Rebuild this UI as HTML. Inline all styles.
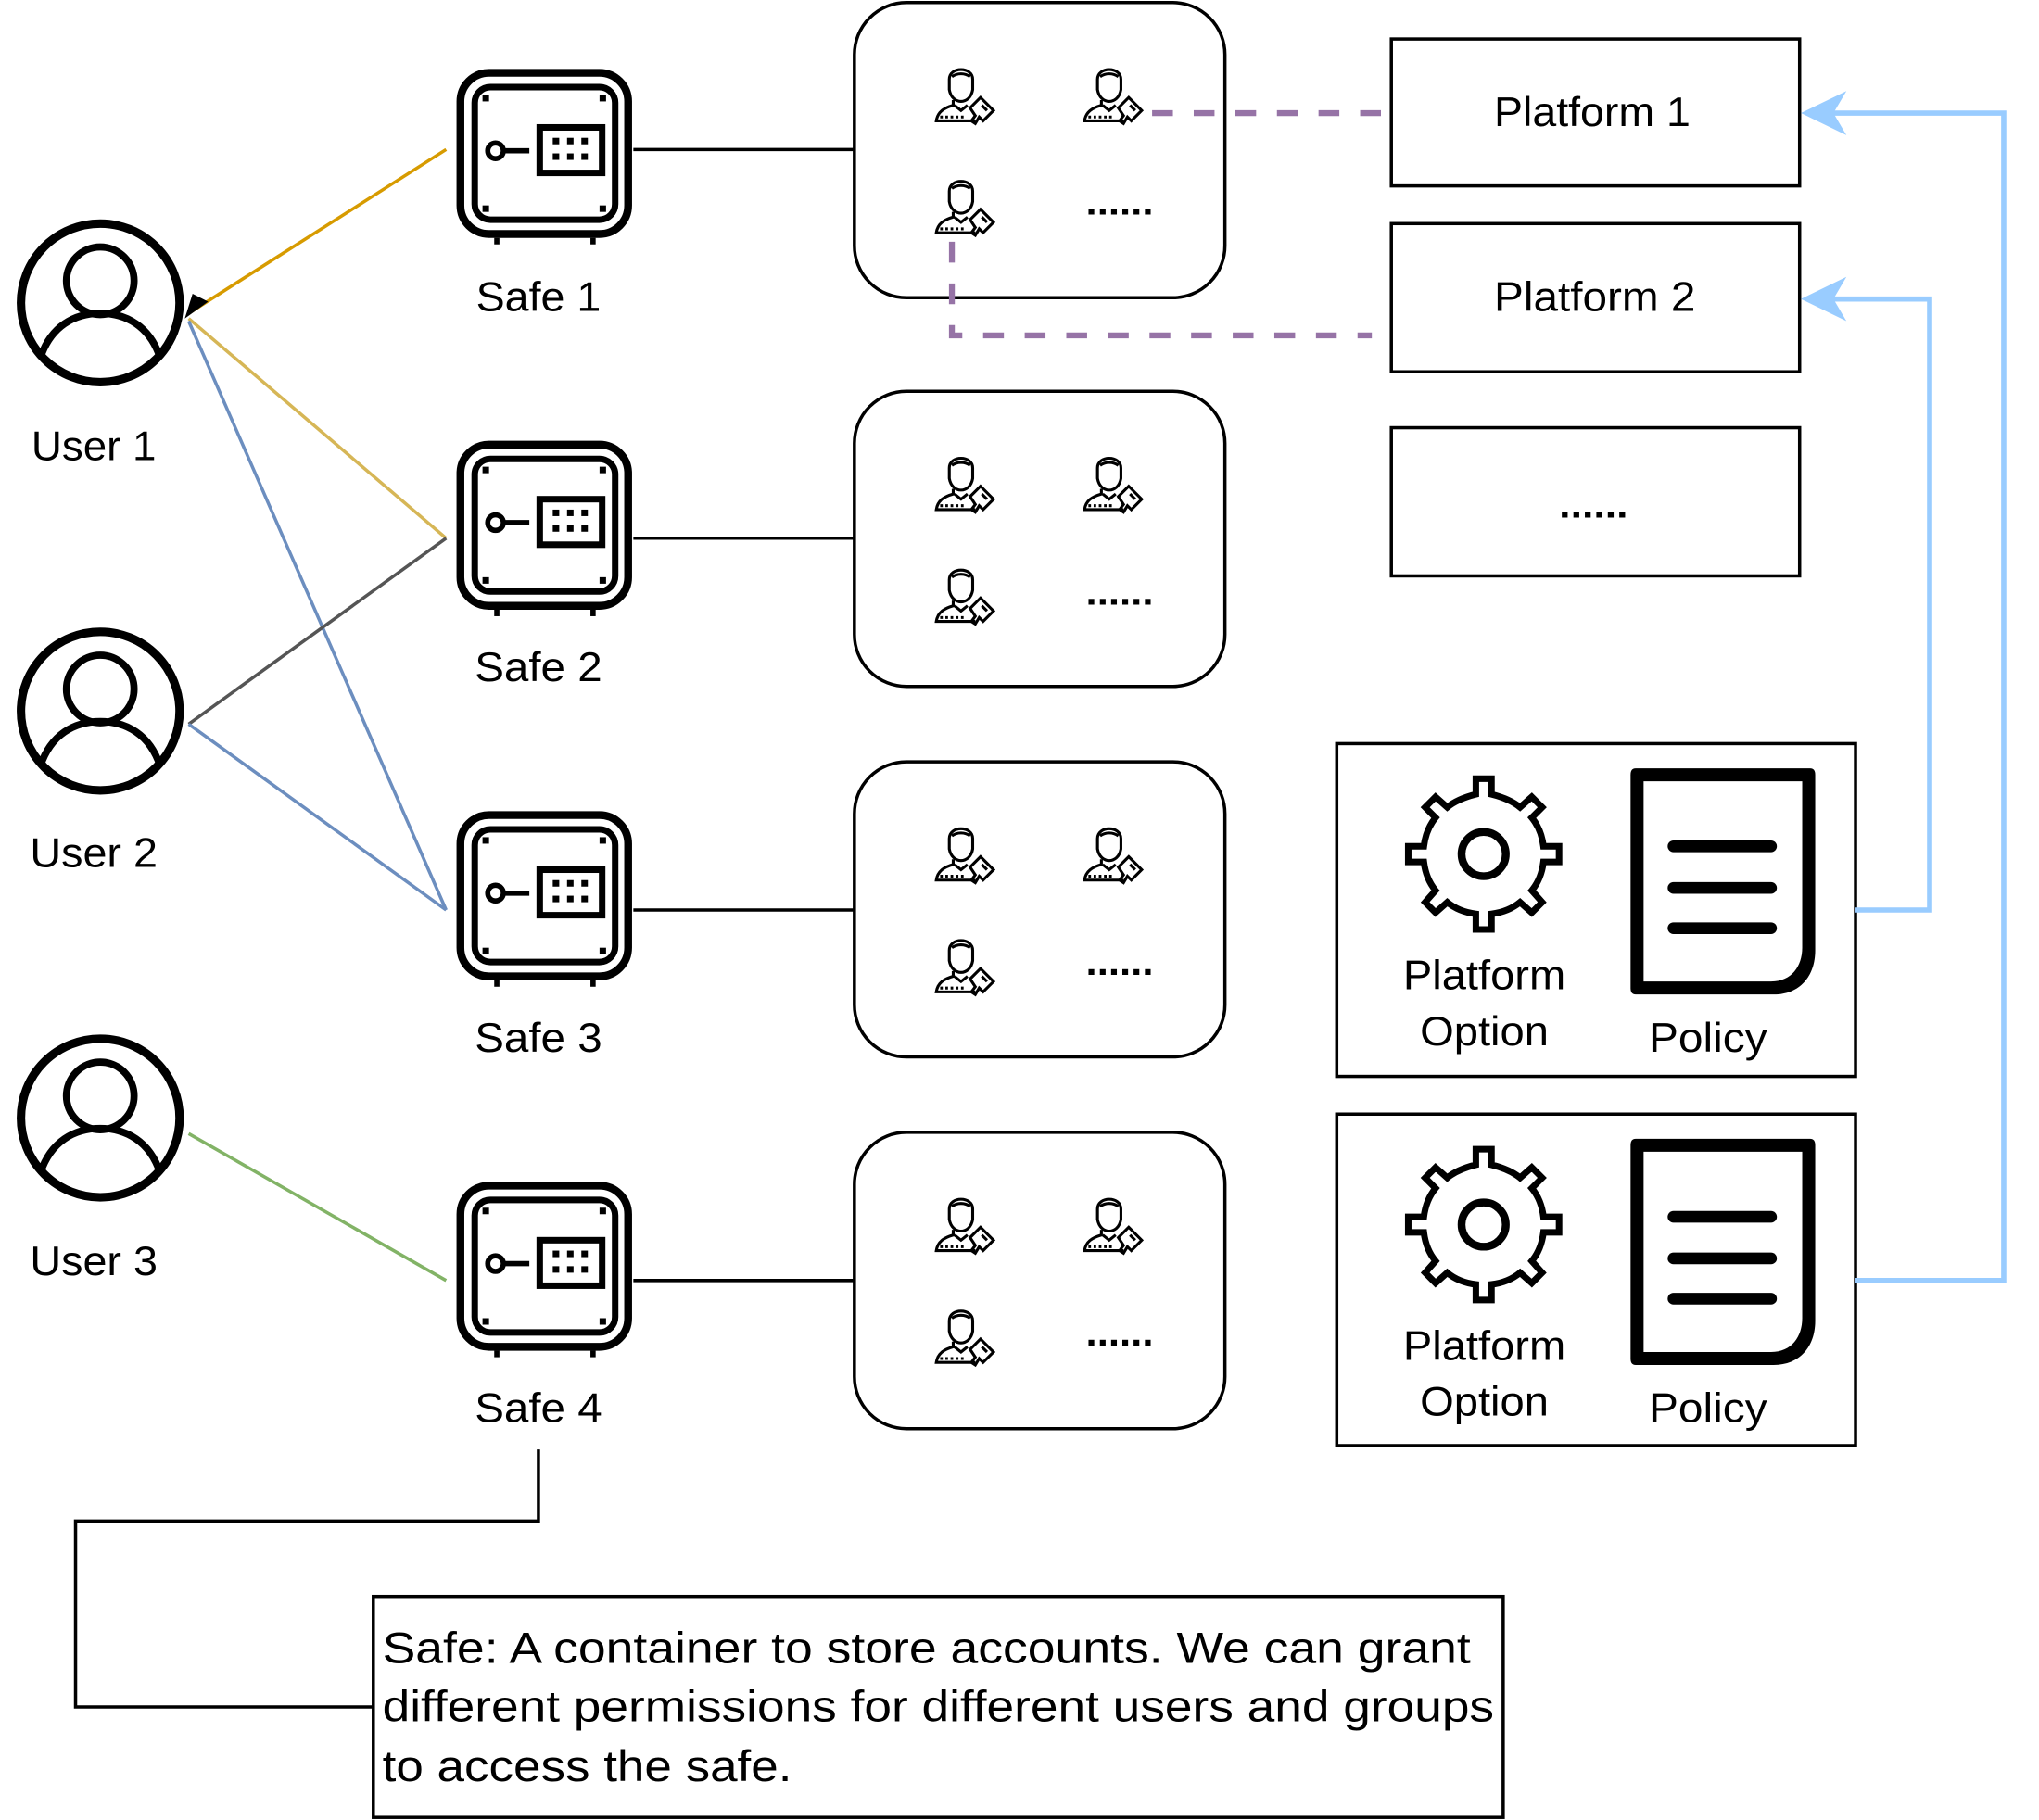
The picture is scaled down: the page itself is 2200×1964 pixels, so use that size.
<!DOCTYPE html>
<html><head><meta charset="utf-8"><style>
html,body{margin:0;padding:0;background:#fff;}
svg{display:block;}
text{font-family:"Liberation Sans",Arial,Helvetica,sans-serif;fill:#000;}
</style></head><body>
<svg width="2200" height="1964" viewBox="0 0 1568 1400" xmlns="http://www.w3.org/2000/svg">
<defs>
<g id="user" fill="none" stroke="#000">
  <circle cx="0" cy="0" r="61" stroke-width="6.5"/>
  <circle cx="0" cy="-17" r="26" stroke-width="5.5"/>
  <path d="M-46,42 C-38,18 -20,8 0,8 C20,8 38,18 46,42" stroke-width="5.5"/>
</g>
<g id="safe">
  <rect x="3" y="3" width="129" height="124" rx="22" fill="none" stroke="#000" stroke-width="6"/>
  <rect x="14" y="14" width="108" height="102" rx="12" fill="none" stroke="#000" stroke-width="5"/>
  <rect x="64" y="45" width="48" height="35" fill="none" stroke="#000" stroke-width="5"/>
  <g fill="#000"><rect x="74" y="53" width="5" height="5"/><rect x="85" y="53" width="5" height="5"/><rect x="96" y="53" width="5" height="5"/><rect x="74" y="65" width="5" height="5"/><rect x="85" y="65" width="5" height="5"/><rect x="96" y="65" width="5" height="5"/>
  <rect x="20" y="20" width="5" height="5"/><rect x="110" y="20" width="5" height="5"/><rect x="20" y="105" width="5" height="5"/><rect x="110" y="105" width="5" height="5"/>
  <rect x="29" y="130" width="4" height="5"/><rect x="103" y="130" width="4" height="5"/></g>
  <circle cx="30" cy="63" r="6" fill="none" stroke="#000" stroke-width="4"/>
  <line x1="36" y1="63" x2="56" y2="63" stroke="#000" stroke-width="4"/>
</g>
<g id="acct" fill="none" stroke="#000" stroke-width="2.2">
  <path d="M12,14 C12,4 30,4 30,14 L30,22 C29,28 25,31 21,31 C17,31 13,28 12,22 Z"/>
  <path d="M14,12 C18,9 24,9 28,12"/>
  <path d="M15,30 L15,34 C8,36 3,39 2,46 L32,46"/>
  <path d="M16,34 L21,38 L26,34"/>
  <path d="M28,36 L36,28 L46,38 L38,46 L35,43 L32,48 L29,46 L32,42 Z"/>
  <path d="M37,34 L41,38" />
  <path d="M5,43 L24,43" stroke-dasharray="2 2"/>
</g>
<g id="gear">
  <path d="M-6,-58 L6,-58 L6,-46 C14,-44 22,-41 28,-36 L37,-44 L45,-36 L37,-28 C42,-22 45,-14 46,-6 L58,-6 L58,6 L46,6 C45,14 42,22 37,28 L45,37 L37,45 L28,37 C22,42 14,45 6,46 L6,58 L-6,58 L-6,46 C-14,45 -22,42 -28,37 L-37,45 L-45,37 L-37,28 C-42,22 -45,14 -46,6 L-58,6 L-58,-6 L-46,-6 C-45,-14 -42,-22 -37,-28 L-45,-36 L-37,-44 L-28,-36 C-22,-41 -14,-44 -6,-46 Z" fill="none" stroke="#000" stroke-width="5"/>
  <circle cx="0" cy="0" r="17" fill="none" stroke="#000" stroke-width="6"/>
</g>
<g id="doc">
  <path d="M4,0 L138,0 C141,0 142,2 142,5 L142,140 C142,160 130,174 110,174 L4,174 C1,174 0,172 0,169 L0,5 C0,2 1,0 4,0 Z" fill="#000"/>
  <path d="M10,10 L132,10 L132,138 C132,152 124,164 108,164 L10,164 Z" fill="#fff"/>
  <g stroke="#000" stroke-width="9" stroke-linecap="round"><line x1="33" y1="60" x2="108" y2="60"/><line x1="33" y1="92" x2="108" y2="92"/><line x1="33" y1="123" x2="108" y2="123"/></g>
</g>
</defs>

<!-- user connectors -->
<line x1="343" y1="115" x2="145" y2="241" stroke="#D79B00" stroke-width="2.5"/>
<path d="M160,232 L142,245 L148,226 Z" fill="#000"/>
<line x1="145" y1="245" x2="343" y2="414" stroke="#D6B656" stroke-width="2.5"/>
<line x1="145" y1="247" x2="343" y2="700" stroke="#6C8EBF" stroke-width="2.5"/>
<line x1="145" y1="557" x2="343" y2="414" stroke="#555" stroke-width="2.5"/>
<line x1="145" y1="557" x2="343" y2="700" stroke="#6C8EBF" stroke-width="2.5"/>
<line x1="145" y1="872" x2="343" y2="985" stroke="#82B366" stroke-width="2.5"/>

<!-- users -->
<use href="#user" x="77" y="233"/>
<use href="#user" x="77" y="547"/>
<use href="#user" x="77" y="860"/>
<text x="72" y="354" font-size="32" text-anchor="middle" textLength="96" lengthAdjust="spacingAndGlyphs">User 1</text>
<text x="72" y="667" font-size="32" text-anchor="middle" textLength="98" lengthAdjust="spacingAndGlyphs">User 2</text>
<text x="72" y="981" font-size="32" text-anchor="middle" textLength="98" lengthAdjust="spacingAndGlyphs">User 3</text>

<!-- safes -->
<use href="#safe" x="351" y="53"/>
<use href="#safe" x="351" y="339"/>
<use href="#safe" x="351" y="624"/>
<use href="#safe" x="351" y="909"/>
<text x="414" y="239" font-size="32" text-anchor="middle" textLength="96" lengthAdjust="spacingAndGlyphs">Safe 1</text>
<text x="414" y="524" font-size="32" text-anchor="middle" textLength="98" lengthAdjust="spacingAndGlyphs">Safe 2</text>
<text x="414" y="809" font-size="32" text-anchor="middle" textLength="98" lengthAdjust="spacingAndGlyphs">Safe 3</text>
<text x="414" y="1094" font-size="32" text-anchor="middle" textLength="98" lengthAdjust="spacingAndGlyphs">Safe 4</text>

<!-- safe to account boxes -->
<g stroke="#000" stroke-width="2.5">
<line x1="487" y1="115" x2="657" y2="115"/>
<line x1="487" y1="414" x2="657" y2="414"/>
<line x1="487" y1="700" x2="657" y2="700"/>
<line x1="487" y1="985" x2="657" y2="985"/>
</g>

<!-- account boxes -->
<g fill="none" stroke="#000" stroke-width="2.5">
<rect x="657" y="2" width="285" height="227" rx="40"/>
<rect x="657" y="301" width="285" height="227" rx="40"/>
<rect x="657" y="586" width="285" height="227" rx="40"/>
<rect x="657" y="871" width="285" height="228" rx="40"/>
</g>
<g>
<use href="#acct" x="718" y="47"/><use href="#acct" x="832" y="47"/><use href="#acct" x="718" y="133"/>
<use href="#acct" x="718" y="346"/><use href="#acct" x="832" y="346"/><use href="#acct" x="718" y="432"/>
<use href="#acct" x="718" y="631"/><use href="#acct" x="832" y="631"/><use href="#acct" x="718" y="717"/>
<use href="#acct" x="718" y="916"/><use href="#acct" x="832" y="916"/><use href="#acct" x="718" y="1002"/>
</g>
<g font-size="30" font-weight="bold">
<text x="835" y="165" textLength="52" lengthAdjust="spacingAndGlyphs">......</text>
<text x="835" y="465" textLength="52" lengthAdjust="spacingAndGlyphs">......</text>
<text x="835" y="750" textLength="52" lengthAdjust="spacingAndGlyphs">......</text>
<text x="835" y="1035" textLength="52" lengthAdjust="spacingAndGlyphs">......</text>
<text x="1199" y="398" textLength="53" lengthAdjust="spacingAndGlyphs">......</text>
</g>

<!-- purple dashed -->
<g fill="none" stroke="#9673A6" stroke-width="4.5" stroke-dasharray="16 16">
<line x1="886" y1="87" x2="1070" y2="87"/>
<path d="M732,186 L732,258 L1055,258"/>
</g>

<!-- platforms -->
<g fill="none" stroke="#000" stroke-width="2.5">
<rect x="1070" y="30" width="314" height="113"/>
<rect x="1070" y="172" width="314" height="114"/>
<rect x="1070" y="329" width="314" height="114"/>
</g>
<text x="1149" y="97" font-size="32" textLength="151" lengthAdjust="spacingAndGlyphs">Platform 1</text>
<text x="1149" y="239" font-size="32" textLength="155" lengthAdjust="spacingAndGlyphs">Platform 2</text>

<!-- policy boxes -->
<g fill="none" stroke="#000" stroke-width="2.5">
<rect x="1028" y="572" width="399" height="256"/>
<rect x="1028" y="857" width="399" height="255"/>
</g>
<use href="#gear" x="1141" y="657"/>
<use href="#gear" x="1141" y="942"/>
<use href="#doc" x="1254" y="591"/>
<use href="#doc" x="1254" y="876"/>
<g font-size="32">
<text x="1079" y="761" textLength="125" lengthAdjust="spacingAndGlyphs">Platform</text>
<text x="1092" y="804" textLength="99" lengthAdjust="spacingAndGlyphs">Option</text>
<text x="1268" y="809" textLength="91" lengthAdjust="spacingAndGlyphs">Policy</text>
<text x="1079" y="1046" textLength="125" lengthAdjust="spacingAndGlyphs">Platform</text>
<text x="1092" y="1089" textLength="99" lengthAdjust="spacingAndGlyphs">Option</text>
<text x="1268" y="1094" textLength="91" lengthAdjust="spacingAndGlyphs">Policy</text>
</g>

<!-- blue connectors -->
<g fill="none" stroke="#99CCFF" stroke-width="4">
<path d="M1427,700 L1484,700 L1484,230 L1394,230"/>
<path d="M1427,985 L1541,985 L1541,87 L1394,87"/>
</g>
<path d="M1385,87 L1420,70 L1410,87 L1420,104 Z" fill="#99CCFF"/>
<path d="M1385,230 L1420,213 L1410,230 L1420,247 Z" fill="#99CCFF"/>

<!-- note -->
<path d="M414,1115 L414,1170 L58,1170 L58,1313 L287,1313" fill="none" stroke="#000" stroke-width="2.5"/>
<rect x="287" y="1228" width="869" height="170" fill="#fff" stroke="#000" stroke-width="2.5"/>
<g font-size="34">
<text x="294" y="1279" textLength="837" lengthAdjust="spacingAndGlyphs">Safe: A container to store accounts. We can grant</text>
<text x="294" y="1324" textLength="855" lengthAdjust="spacingAndGlyphs">different permissions for different users and groups</text>
<text x="294" y="1370" textLength="315" lengthAdjust="spacingAndGlyphs">to access the safe.</text>
</g>
</svg>
</body></html>
